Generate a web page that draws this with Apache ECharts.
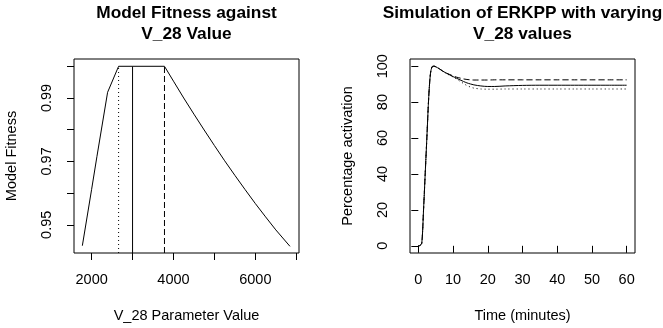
<!DOCTYPE html>
<html>
<head>
<meta charset="utf-8">
<script src="https://cdn.jsdelivr.net/npm/echarts@6/dist/echarts.min.js"></script>
<style>
  html, body { margin: 0; padding: 0; background: #fff; }
  #chart { width: 663px; height: 328px; }
</style>
</head>
<body>
<div id="chart"></div>
<script>
// left panel: model fitness vs V_28
const v28Values = [1773, 2000, 2130, 2390, 2659, 3000, 3780, 4000, 4250, 4500, 4750, 5000, 5250, 5500, 5750, 6000, 6250, 6500, 6846];
const fitness = [0.9434, 0.9612, 0.9716, 0.9918, 1.0, 1.0, 1.0, 0.9953, 0.9900, 0.9849, 0.9799, 0.9750, 0.9702, 0.9656, 0.9611, 0.9567, 0.9525, 0.9484, 0.9432];
const markV28 = [2659, 3000, 3780]; // dotted, solid, dashed
const fitTicks = [0.95, 0.96, 0.97, 0.98, 0.99, 1.00];
const fitLabels = [0.95, 0.97, 0.99];
const v28Ticks = [2000, 3000, 4000, 5000, 6000, 7000];
const v28Labels = [2000, 4000, 6000];

// right panel: ERKPP simulation
const time = [0, 0.5, 1, 1.5, 2, 2.5, 3, 3.5, 4, 4.5, 5, 6, 7, 8, 9, 10, 11, 12, 13, 14, 15, 16, 18, 20, 22, 25, 30, 35, 40, 45, 50, 55, 60];
const erkSolid = [0, 0.2, 1.5, 20, 41, 62, 83, 96, 99.8, 100, 99.7, 98.6, 97.3, 96.2, 95.2, 94.2, 93.3, 92.4, 91.5, 90.7, 90.1, 89.6, 89.0, 88.7, 88.7, 89.0, 89.3, 89.4, 89.4, 89.4, 89.4, 89.4, 89.4];
const erkDashed = [0, 0.2, 1.5, 20, 41, 62, 83, 96, 99.8, 100, 99.7, 98.6, 97.3, 96.2, 95.4, 94.6, 93.9, 93.4, 92.9, 92.6, 92.4, 92.3, 92.3, 92.3, 92.4, 92.4, 92.4, 92.4, 92.4, 92.4, 92.4, 92.4, 92.4];
const erkDotted = [0, 0.2, 1.5, 20, 41, 62, 83, 96, 99.8, 100, 99.7, 98.6, 97.3, 96.0, 95.0, 94.0, 92.9, 91.6, 90.4, 89.2, 88.4, 87.8, 87.3, 87.2, 87.2, 87.3, 87.3, 87.3, 87.3, 87.3, 87.3, 87.3, 87.3];
const timeTicks = [0, 10, 20, 30, 40, 50, 60];
const pctTicks = [0, 20, 40, 60, 80, 100];

const fitMin = 0.9411, fitMax = 1.0023;
const FONT = 'Liberation Sans, Arial, Helvetica, sans-serif';

let myChart = echarts.init(document.getElementById('chart'), null, { renderer: 'canvas' });

const pairs = (xs, ys) => xs.map((x, i) => [x, ys[i]]);

// R-style axis: ticks outside, box drawn by grid
const axisBase = (ticks, labels, rotate) => ({
    type: 'value',
    axisLine: { show: false },
    splitLine: { show: false },
    axisTick: { show: true, inside: false, length: 7, customValues: ticks, lineStyle: { color: '#000', width: 1 } },
    axisLabel: {
        customValues: labels,
        formatter: (v) => String(v),
        color: '#000',
        fontFamily: FONT,
        fontSize: 14.5,
        margin: rotate ? 20 : 19,
        rotate: rotate ? 90 : 0,
        hideOverlap: false
    },
    nameLocation: 'middle',
    nameGap: 55,
    nameTextStyle: { color: '#000', fontFamily: FONT, fontSize: 14.5 }
});

const lineStyle = (type) => ({ color: '#000', width: 1, type: type });
const titleStyle = { fontFamily: FONT, fontSize: 17.3, fontWeight: 'bold', color: '#000', lineHeight: 21 };

let option = {
    animation: false,
    backgroundColor: '#fff',
    title: [
        { text: 'Model Fitness against\nV_28 Value', left: 186.5, top: 3, padding: 0, textAlign: 'center', textStyle: titleStyle },
        { text: 'Simulation of ERKPP with varying\nV_28 values', left: 522.5, top: 3, padding: 0, textAlign: 'center', textStyle: titleStyle }
    ],
    grid: [
        { left: 74, top: 59, width: 225, height: 194, show: true, borderColor: '#000', borderWidth: 1, backgroundColor: 'transparent' },
        { left: 410, top: 59, width: 225, height: 194, show: true, borderColor: '#000', borderWidth: 1, backgroundColor: 'transparent' }
    ],
    xAxis: [
        Object.assign(axisBase(v28Ticks, v28Labels, false), { gridIndex: 0, min: 1569, max: 7067, name: 'V_28 Parameter Value' }),
        Object.assign(axisBase(timeTicks, timeTicks, false), { gridIndex: 1, min: -2.4, max: 62.4, name: 'Time (minutes)' })
    ],
    yAxis: [
        Object.assign(axisBase(fitTicks, fitLabels, true), { gridIndex: 0, min: fitMin, max: fitMax, name: 'Model Fitness' }),
        Object.assign(axisBase(pctTicks, pctTicks, true), { gridIndex: 1, min: -4, max: 104, name: 'Percentage activation' })
    ],
    series: [
        { type: 'line', xAxisIndex: 0, yAxisIndex: 0, data: pairs(v28Values, fitness), showSymbol: false, lineStyle: lineStyle('solid') },
        // vertical markers
        { type: 'line', xAxisIndex: 0, yAxisIndex: 0, data: [[markV28[0], fitMin], [markV28[0], 1.0]], showSymbol: false, lineStyle: lineStyle([1, 3]) },
        { type: 'line', xAxisIndex: 0, yAxisIndex: 0, data: [[markV28[1], fitMin], [markV28[1], 1.0]], showSymbol: false, lineStyle: lineStyle('solid') },
        { type: 'line', xAxisIndex: 0, yAxisIndex: 0, data: [[markV28[2], fitMin], [markV28[2], 1.0]], showSymbol: false, lineStyle: lineStyle([6, 3]) },
        // ERKPP curves
        { type: 'line', xAxisIndex: 1, yAxisIndex: 1, data: pairs(time, erkDotted), showSymbol: false, smooth: 0.3, lineStyle: lineStyle([1, 3]) },
        { type: 'line', xAxisIndex: 1, yAxisIndex: 1, data: pairs(time, erkDashed), showSymbol: false, smooth: 0.3, lineStyle: lineStyle([6, 3]) },
        { type: 'line', xAxisIndex: 1, yAxisIndex: 1, data: pairs(time, erkSolid), showSymbol: false, smooth: 0.3, lineStyle: lineStyle('solid') }
    ]
};

option && myChart.setOption(option);
</script>
</body>
</html>
